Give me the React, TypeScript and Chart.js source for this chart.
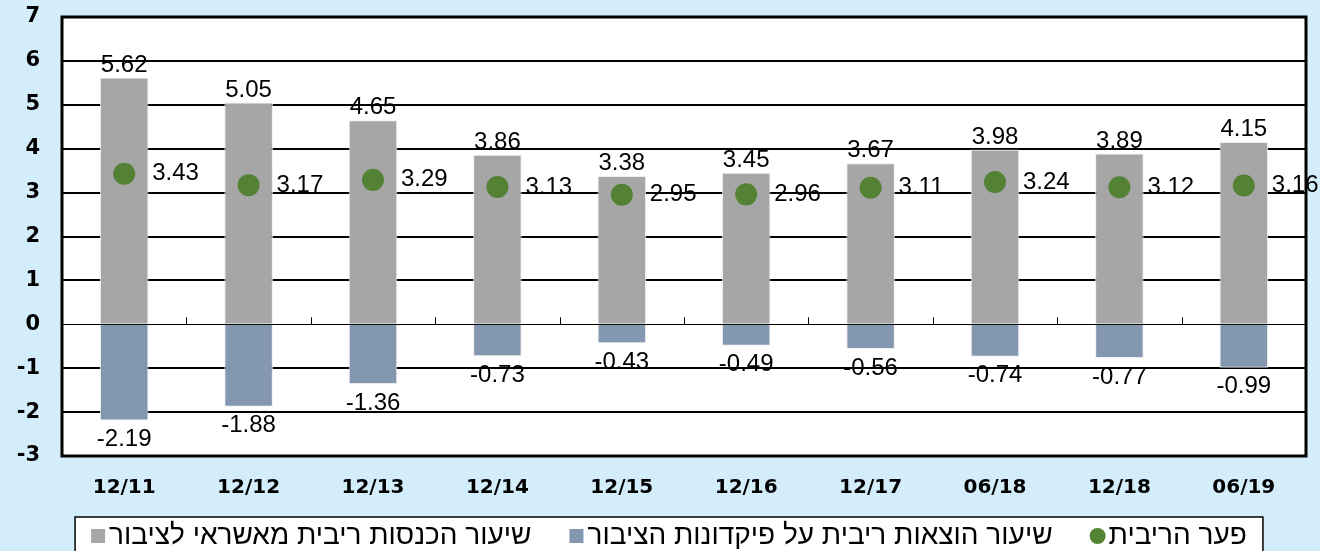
import React, { useEffect, useRef } from "react";
import { Chart, registerables } from "chart.js";

Chart.register(...registerables);

const categories = ["12/11", "12/12", "12/13", "12/14", "12/15", "12/16", "12/17", "06/18", "12/18", "06/19"];
const incomeRate = [5.62, 5.05, 4.65, 3.86, 3.38, 3.45, 3.67, 3.98, 3.89, 4.15];
const expenseRate = [-2.19, -1.88, -1.36, -0.73, -0.43, -0.49, -0.56, -0.74, -0.77, -0.99];
const spread = [3.43, 3.17, 3.29, 3.13, 2.95, 2.96, 3.11, 3.24, 3.12, 3.16];

const incomeLabel = "שיעור הכנסות ריבית מאשראי לציבור";
const expenseLabel = "שיעור הוצאות ריבית על פיקדונות הציבור";
const spreadLabel = "פער הריבית";

const BG = "#D3EDFA";
const GRAY = "#A6A6A6";
const BLUE = "#8497B0";
const GREEN = "#548235";

const fmt = (v: number) => v.toFixed(2);

const bgPlugin = {
  id: "bgPlugin",
  beforeDraw(chart: any) {
    const { ctx, chartArea: a } = chart;
    ctx.save();
    ctx.fillStyle = BG;
    ctx.fillRect(0, 0, chart.width, chart.height);
    ctx.fillStyle = "#FFFFFF";
    ctx.fillRect(a.left, a.top, a.right - a.left, a.bottom - a.top);
    ctx.restore();
  },
};

const overlayPlugin = {
  id: "overlayPlugin",
  afterDatasetsDraw(chart: any) {
    const { ctx, chartArea: a } = chart;
    const x = chart.scales.x;
    const y = chart.scales.y;
    ctx.save();
    const y0 = y.getPixelForValue(0);
    ctx.strokeStyle = "#000";
    ctx.lineWidth = 1;
    for (let i = 0; i < categories.length - 1; i++) {
      const bx = Math.round((x.getPixelForValue(i) + x.getPixelForValue(i + 1)) / 2) + 0.5;
      ctx.beginPath();
      ctx.moveTo(bx, y0);
      ctx.lineTo(bx, y0 - 7);
      ctx.stroke();
    }
    ctx.lineWidth = 3;
    ctx.strokeRect(a.left, a.top, a.right - a.left, a.bottom - a.top);

    ctx.fillStyle = "#000";
    ctx.font = '24px "Liberation Sans"';
    const m0 = chart.getDatasetMeta(0);
    const m1 = chart.getDatasetMeta(1);
    const m2 = chart.getDatasetMeta(2);
    ctx.textAlign = "center";
    ctx.textBaseline = "alphabetic";
    m0.data.forEach((el: any, i: number) => {
      ctx.fillText(fmt(incomeRate[i]), el.x, el.y - 6);
    });
    ctx.textBaseline = "top";
    m1.data.forEach((el: any, i: number) => {
      ctx.fillText(fmt(expenseRate[i]), el.x, el.y + 7);
    });
    ctx.textAlign = "left";
    ctx.textBaseline = "middle";
    m2.data.forEach((el: any, i: number) => {
      ctx.fillText(fmt(spread[i]), el.x + 28, el.y);
    });
    ctx.restore();
  },
};

const legendPlugin = {
  id: "boxLegend",
  afterDraw(chart: any) {
    const { ctx } = chart;
    ctx.save();
    ctx.font = '28px "Liberation Sans"';
    const items = chart.data.datasets.map((ds: any) => ({
      text: ds.label as string,
      color: ds.backgroundColor as string,
      circle: ds.type === "line",
    }));
    const marker = 14;
    const gapMT = 4;
    const gapItem = 38;
    const padX = 16;
    const widths = items.map((it: any) => ctx.measureText(it.text).width);
    let total = 0;
    widths.forEach((w: number, i: number) => {
      total += marker + gapMT + w + (i < widths.length - 1 ? gapItem : 0);
    });
    const cx = chart.width / 2 + 9;
    const boxL = cx - total / 2 - padX;
    const boxW = total + padX * 2;
    const boxT = 517;
    ctx.fillStyle = "#FFFFFF";
    ctx.fillRect(boxL, boxT, boxW, chart.height - boxT + 10);
    ctx.strokeStyle = "#000";
    ctx.lineWidth = 1.5;
    ctx.strokeRect(boxL, boxT, boxW, chart.height - boxT + 10);
    const cy = boxT + 19;
    let xx = boxL + padX;
    items.forEach((it: any, i: number) => {
      ctx.fillStyle = it.color;
      if (it.circle) {
        ctx.beginPath();
        ctx.arc(xx + marker / 2, cy, marker / 2 + 1, 0, Math.PI * 2);
        ctx.fill();
      } else {
        ctx.fillRect(xx, cy - marker / 2, marker, marker);
      }
      xx += marker + gapMT;
      ctx.fillStyle = "#000";
      ctx.textAlign = "left";
      ctx.textBaseline = "middle";
      ctx.fillText(it.text, xx, cy);
      xx += widths[i] + gapItem;
    });
    ctx.restore();
  },
};

export default function App() {
  const ref = useRef<HTMLCanvasElement | null>(null);
  useEffect(() => {
    document.body.style.margin = "0";
    const canvas = ref.current;
    if (!canvas) return;
    const chart = new Chart(canvas, {
      type: "bar",
      data: {
        labels: categories,
        datasets: [
          {
            type: "bar",
            label: incomeLabel,
            data: incomeRate,
            backgroundColor: GRAY,
            borderColor: "rgba(235,235,235,0.9)",
            borderWidth: 1,
            barPercentage: 0.39,
            categoryPercentage: 1,
            order: 2,
          },
          {
            type: "bar",
            label: expenseLabel,
            data: expenseRate,
            backgroundColor: BLUE,
            borderColor: "rgba(235,235,235,0.9)",
            borderWidth: 1,
            barPercentage: 0.39,
            categoryPercentage: 1,
            order: 2,
          },
          {
            type: "line",
            label: spreadLabel,
            data: spread,
            backgroundColor: GREEN,
            borderColor: GREEN,
            showLine: false,
            pointRadius: 11,
            pointHoverRadius: 11,
            pointBorderWidth: 0,
            order: 1,
          },
        ] as any,
      },
      options: {
        animation: false,
        responsive: false,
        devicePixelRatio: 1,
        layout: { padding: { left: 0, right: 14, top: 17, bottom: 0 } },
        plugins: {
          legend: { display: false },
          tooltip: { enabled: false },
          title: { display: false },
        },
        scales: {
          x: {
            stacked: true,
            grid: { display: false, drawTicks: false },
            border: { display: false },
            ticks: {
              color: "#000",
              padding: 20,
              font: { family: "DejaVu Sans", size: 20, weight: "bold" },
            },
            afterFit: (s: any) => {
              s.height = 95;
            },
          },
          y: {
            stacked: true,
            min: -3,
            max: 7,
            grid: {
              color: "#000",
              lineWidth: (c: any) => (c.tick && c.tick.value === 0 ? 1 : 2),
              drawTicks: false,
            },
            border: { display: false },
            ticks: {
              stepSize: 1,
              color: "#000",
              padding: 22,
              font: { family: "DejaVu Sans", size: 21, weight: "bold" },
            },
            afterFit: (s: any) => {
              s.width = 62;
              s.paddingTop = 0;
              s.paddingBottom = 0;
            },
          },
        },
      },
      plugins: [bgPlugin, overlayPlugin, legendPlugin],
    });
    return () => chart.destroy();
  }, []);
  return (
    <canvas ref={ref} width={1320} height={551} style={{ display: "block", width: 1320, height: 551 }} />
  );
}
